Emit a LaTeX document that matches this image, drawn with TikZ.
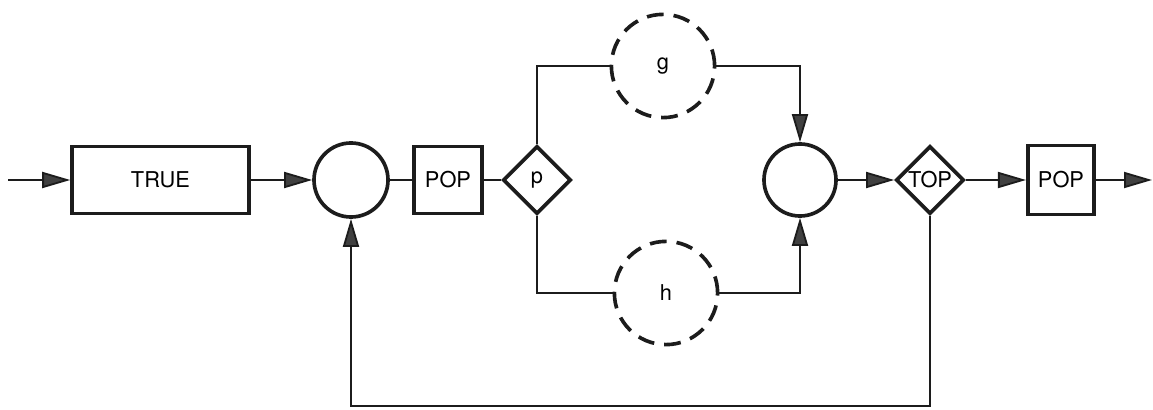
\documentclass[tikz,border=0pt]{standalone}
\usepackage{fontspec}
\setmainfont{TeX Gyre Heros}
\usetikzlibrary{arrows.meta, shapes.geometric}
\definecolor{flowink}{HTML}{1C1C1C}
\definecolor{flowhead}{HTML}{404040}

\begin{document}
\begin{tikzpicture}[x=0.025cm,y=0.025cm,
  font=\fontsize{15.5}{18}\selectfont,
  line width=1.3pt,draw=flowink,
  opbox/.style={draw=flowink,line width=2.6pt,rectangle,inner sep=0pt},
  joinc/.style={draw=flowink,line width=2.6pt,circle,minimum size=1.8cm,inner sep=0pt},
  testd/.style={draw=flowink,line width=2.6pt,diamond,minimum width=1.7cm,
                minimum height=1.7cm,inner sep=0pt},
  procc/.style={draw=flowink,line width=2.6pt,circle,minimum size=2.58cm,
                inner sep=0pt,dash pattern=on 0.42cm off 0.25cm},
  arr/.style={-{Triangle[length=0.7cm,width=0.4cm,fill=flowhead]}}]
\useasboundingbox (0,-229) rectangle (1153,180);

% nodes along the main line
\node[opbox,minimum width=4.42cm,minimum height=1.67cm] (true) at (160.5,0) {TRUE};
\node[joinc,minimum size=1.85cm] (c1) at (351,0) {};
\node[opbox,minimum width=1.7cm,minimum height=1.68cm] (pop1) at (448,0) {POP};
\node[testd] (p) at (537,0) {p};
\node[procc] (g) at (663,114) {g};
\node[procc] (h) at (666,-113) {h};
\node[joinc] (c2) at (800,0) {};
\node[testd] (top) at (930,0) {TOP};
\node[opbox,minimum width=1.66cm,minimum height=1.72cm] (pop2) at (1061,0) {POP};

\coordinate (in) at (8,0);
\coordinate (out) at (1152,0);
\coordinate (back) at (930,-226);

% connectors
\draw[arr] (in) -- (true);
\draw[arr] (true) -- (c1);
\draw (c1) -- (pop1);
\draw (pop1) -- (p);
\draw (p.north) |- (g.west);
\draw (p.south) |- (h.west);
\draw[arr] (g.east) -| (c2.north);
\draw[arr] (h.east) -| (c2.south);
\draw[arr] (c2) -- (top);
\draw[arr] (top) -- (pop2);
\draw[arr] (pop2) -- (out);
\draw[arr] (top.south) -- (back) -| (c1.south);
\end{tikzpicture}
\end{document}
